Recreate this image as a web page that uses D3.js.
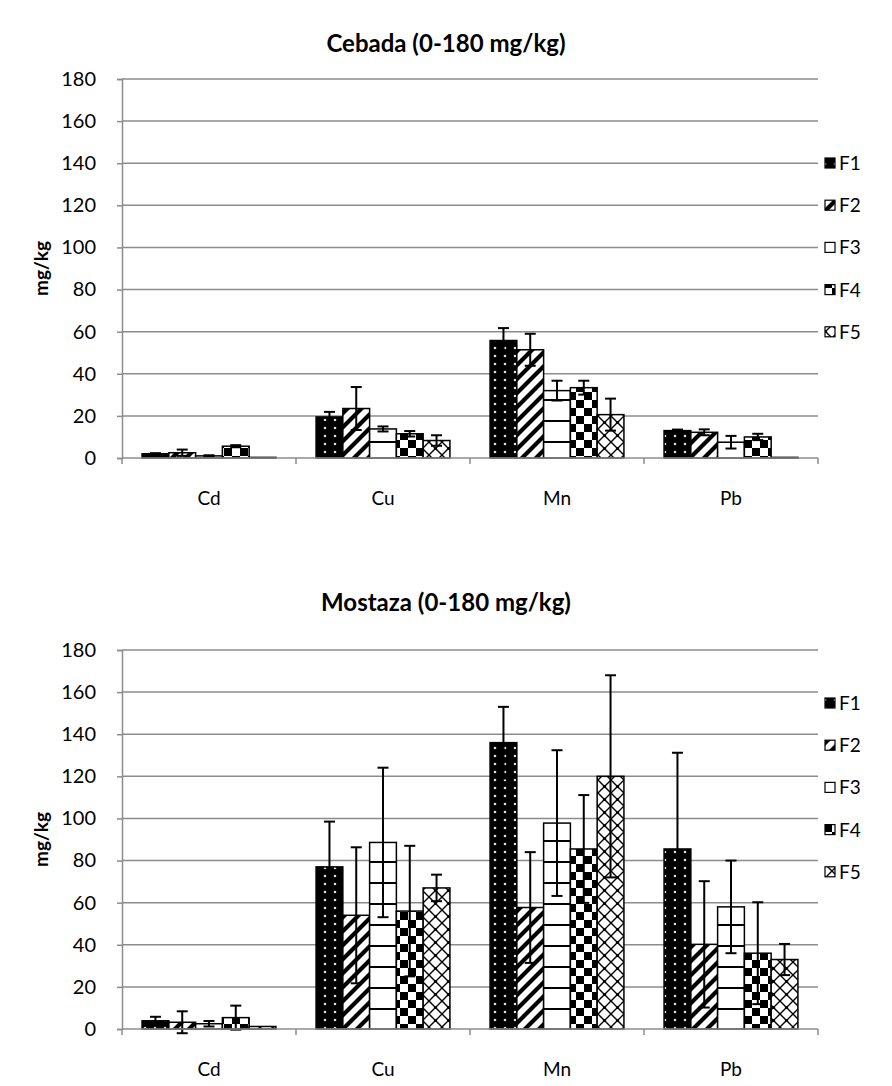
<!DOCTYPE html>
<html>
<head>
<meta charset="utf-8">
<script src="https://cdn.jsdelivr.net/npm/d3@7"></script>
<style>
  body { margin: 0; background: #fff; }
  svg { display: block; font-family: Lato, "Open Sans", sans-serif; }
</style>
</head>
<body>
<svg id="chart" width="892" height="1086"></svg>
<script>
// categories and series
const categories = ["Cd", "Cu", "Mn", "Pb"];
const series = ["F1", "F2", "F3", "F4", "F5"];
const yTicks = [0, 20, 40, 60, 80, 100, 120, 140, 160, 180];

// Cebada: mean per series (Cd, Cu, Mn, Pb)
const cebadaF1 = [2.0, 19.5, 55.8, 13.0];
const cebadaF2 = [2.5, 23.5, 51.4, 12.2];
const cebadaF3 = [1.0, 13.8, 32.0, 7.5];
const cebadaF4 = [5.6, 11.5, 33.4, 10.0];
const cebadaF5 = [0.3, 8.3, 20.6, 0.3];
// Cebada: error (+/-)
const cebadaErrF1 = [0.3, 2.4, 5.9, 0.5];
const cebadaErrF2 = [1.5, 10.2, 7.6, 1.4];
const cebadaErrF3 = [0.3, 1.2, 4.7, 3.0];
const cebadaErrF4 = [0.5, 1.3, 3.3, 1.5];
const cebadaErrF5 = [0, 2.5, 7.6, 0];

// Mostaza: mean per series
const mostazaF1 = [3.9, 77.0, 136.0, 85.5];
const mostazaF2 = [3.2, 54.0, 57.7, 40.2];
const mostazaF3 = [2.5, 88.6, 97.8, 58.0];
const mostazaF4 = [5.4, 56.0, 85.5, 36.0];
const mostazaF5 = [1.2, 67.0, 120.0, 33.0];
// Mostaza: error
const mostazaErrF1 = [1.9, 21.5, 17.0, 45.7];
const mostazaErrF2 = [5.2, 32.3, 26.3, 30.0];
const mostazaErrF3 = [1.3, 35.5, 34.6, 22.0];
const mostazaErrF4 = [5.7, 31.0, 25.6, 24.2];
const mostazaErrF5 = [0, 6.3, 48.0, 7.4];

const charts = [
  { title: "Cebada (0-180 mg/kg)", top: 79, bottom: 458, titleY: 52, legendY: 163,
    means: [cebadaF1, cebadaF2, cebadaF3, cebadaF4, cebadaF5],
    errs: [cebadaErrF1, cebadaErrF2, cebadaErrF3, cebadaErrF4, cebadaErrF5] },
  { title: "Mostaza (0-180 mg/kg)", top: 650, bottom: 1029, titleY: 611, legendY: 703,
    means: [mostazaF1, mostazaF2, mostazaF3, mostazaF4, mostazaF5],
    errs: [mostazaErrF1, mostazaErrF2, mostazaErrF3, mostazaErrF4, mostazaErrF5] }
];

const svg = d3.select("#chart");
const defs = svg.append("defs");

// fill patterns, one per series
function pattern(id, w, h, draw) {
  const p = defs.append("pattern").attr("id", id)
    .attr("patternUnits", "userSpaceOnUse").attr("width", w).attr("height", h);
  draw(p);
}
pattern("pF1", 10, 8, p => {
  p.append("rect").attr("width", 10).attr("height", 8).attr("fill", "#000");
  p.append("circle").attr("cx", 5).attr("cy", 4).attr("r", 1.3).attr("fill", "#ddd");
});
pattern("pF2", 14, 14, p => {
  p.append("rect").attr("width", 14).attr("height", 14).attr("fill", "#fff");
  p.append("path").attr("d", "M-4,4 L4,-4 M0,14 L14,0 M10,18 L18,10")
    .attr("stroke", "#000").attr("stroke-width", 4.2);
});
pattern("pF3", 8, 21, p => {
  p.append("rect").attr("width", 8).attr("height", 21).attr("fill", "#fff");
  p.append("line").attr("x1", 0).attr("x2", 8).attr("y1", 1).attr("y2", 1)
    .attr("stroke", "#000").attr("stroke-width", 2);
});
pattern("pF4", 16, 16, p => {
  p.append("rect").attr("width", 16).attr("height", 16).attr("fill", "#fff");
  p.append("rect").attr("width", 8).attr("height", 8).attr("fill", "#000");
  p.append("rect").attr("x", 8).attr("y", 8).attr("width", 8).attr("height", 8).attr("fill", "#000");
});
pattern("pF5", 13, 13, p => {
  p.append("rect").attr("width", 13).attr("height", 13).attr("fill", "#fff");
  p.append("path").attr("d", "M0,0 L13,13 M13,0 L0,13")
    .attr("stroke", "#000").attr("stroke-width", 1.4);
  p.append("circle").attr("cx", 6.5).attr("cy", 6.5).attr("r", 1.6).attr("fill", "#000");
});

const left = 122, right = 818;

charts.forEach(c => {
  const g = svg.append("g");

  const x0 = d3.scaleBand().domain(categories).range([left, right]).padding(0);
  const x1 = d3.scaleBand().domain(series).range([0, x0.bandwidth()])
    .paddingInner(0).paddingOuter(0.75);
  const y = d3.scaleLinear().domain([0, 180]).range([c.bottom, c.top]);

  // title
  g.append("text").attr("x", 446).attr("y", c.titleY)
    .attr("text-anchor", "middle").attr("font-size", 24).attr("font-weight", "bold")
    .text(c.title);

  // gridlines
  g.append("g").selectAll("line").data(yTicks.filter(t => t > 0)).join("line")
    .attr("x1", left).attr("x2", right)
    .attr("y1", d => y(d)).attr("y2", d => y(d))
    .attr("stroke", "#8c8c8c").attr("stroke-width", 1.5);

  // y axis
  const yAxis = g.append("g").attr("transform", `translate(${left},0)`)
    .call(d3.axisLeft(y).tickValues(yTicks).tickSize(5).tickPadding(6));
  yAxis.select(".domain").attr("stroke", "#8c8c8c").attr("stroke-width", 1.5);
  yAxis.selectAll(".tick line").attr("stroke", "#8c8c8c").attr("stroke-width", 1.5);
  yAxis.selectAll(".tick text").attr("font-size", 20).attr("font-family", "Lato, sans-serif")
    .attr("fill", "#000").attr("x", -26);

  g.append("text")
    .attr("transform", `translate(48,${(c.top + c.bottom) / 2}) rotate(-90)`)
    .attr("text-anchor", "middle").attr("font-size", 19).attr("font-weight", "bold")
    .text("mg/kg");

  // bars
  series.forEach((s, si) => {
    g.append("g").selectAll("rect").data(categories).join("rect")
      .attr("x", d => x0(d) + x1(s))
      .attr("y", (d, ci) => y(c.means[si][ci]))
      .attr("width", x1.bandwidth())
      .attr("height", (d, ci) => y(0) - y(c.means[si][ci]))
      .attr("fill", `url(#p${s})`)
      .attr("stroke", "#000").attr("stroke-width", 1.5);
  });

  // error bars
  series.forEach((s, si) => {
    categories.forEach((cat, ci) => {
      const e = c.errs[si][ci];
      if (e <= 0) return;
      const cx = x0(cat) + x1(s) + x1.bandwidth() / 2;
      const m = c.means[si][ci];
      const eg = g.append("g").attr("stroke", "#000").attr("stroke-width", 2);
      eg.append("line").attr("x1", cx).attr("x2", cx).attr("y1", y(m - e)).attr("y2", y(m + e));
      eg.append("line").attr("x1", cx - 5.5).attr("x2", cx + 5.5).attr("y1", y(m + e)).attr("y2", y(m + e));
      eg.append("line").attr("x1", cx - 5.5).attr("x2", cx + 5.5).attr("y1", y(m - e)).attr("y2", y(m - e));
    });
  });

  // x axis
  const xAxis = g.append("g").attr("transform", `translate(0,${c.bottom})`);
  xAxis.append("line").attr("x1", left).attr("x2", right)
    .attr("stroke", "#8c8c8c").attr("stroke-width", 1.5);
  xAxis.selectAll(".tk").data(categories.concat([null])).join("line")
    .attr("x1", (d, i) => left + i * x0.step()).attr("x2", (d, i) => left + i * x0.step())
    .attr("y1", 0).attr("y2", 6)
    .attr("stroke", "#8c8c8c").attr("stroke-width", 1.5);
  xAxis.selectAll("text").data(categories).join("text")
    .attr("x", d => x0(d) + x0.bandwidth() / 2).attr("y", 47)
    .attr("text-anchor", "middle").attr("font-size", 19)
    .text(d => d);

  // legend
  const lg = g.append("g");
  series.forEach((s, si) => {
    const ly = c.legendY + si * 42.2;
    lg.append("rect").attr("x", 825).attr("y", ly - 5).attr("width", 10).attr("height", 10)
      .attr("fill", `url(#p${s})`).attr("stroke", "#000").attr("stroke-width", 1.2);
    lg.append("text").attr("x", 839).attr("y", ly + 7).attr("font-size", 19).text(s);
  });
});
</script>
</body>
</html>
